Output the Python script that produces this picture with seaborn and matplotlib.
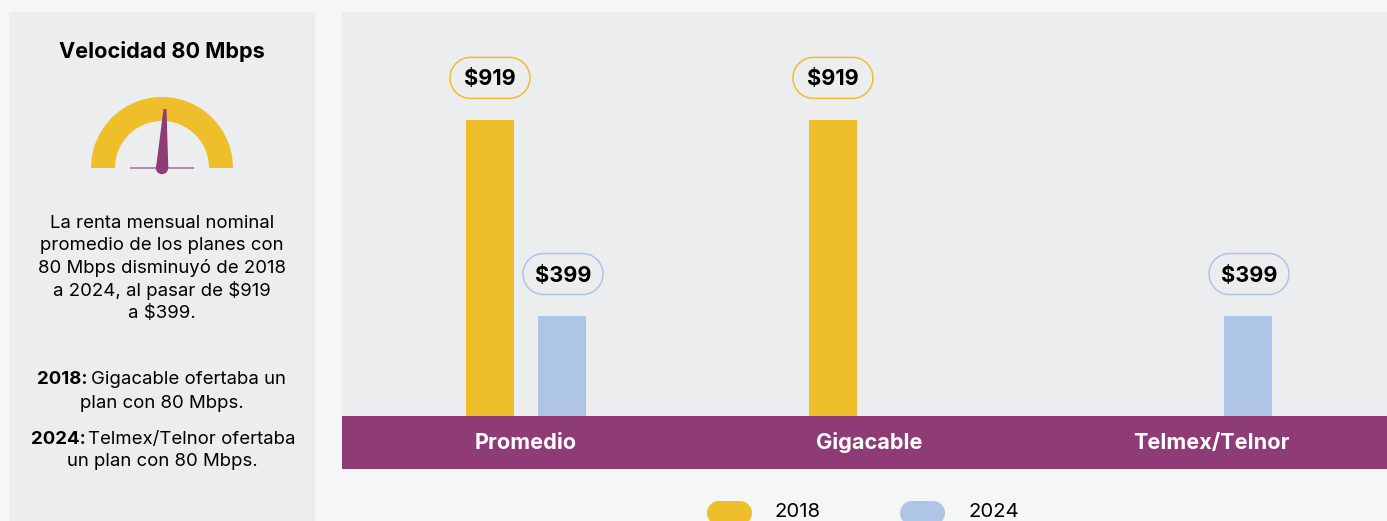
# plot.py
# Renta mensual nominal, planes con velocidad de 80 Mbps
import numpy as np
import pandas as pd
import matplotlib.pyplot as plt
import seaborn as sns
from matplotlib.patches import Rectangle, Wedge, Polygon, Circle

# Data
categories = ["Promedio", "Gigacable", "Telmex/Telnor"]
years = ["2018", "2024"]
values_2018 = [919, 919, np.nan]
values_2024 = [399, np.nan, 399]

title = "Velocidad 80 Mbps"
body_lines = ["La renta mensual nominal", "promedio de los planes con",
              "80 Mbps disminuyó de 2018", "a 2024, al pasar de $919", "a $399."]

# Colours
YELLOW = "#EFBE2B"
BLUE = "#AFC5E7"
PURPLE = "#8F3B76"
PANEL = "#ECEDEF"
PAGE = "#F5F7F6"
FONT = "Inter"

sns.set_theme(style="white")
plt.rcParams["font.family"] = [FONT, "DejaVu Sans"]
plt.rcParams["text.parse_math"] = False

W, H = 1387, 521
fig = plt.figure(figsize=(W / 100, H / 100), dpi=100, facecolor=PAGE)


def pill(x, y, w, h):
    # outline of a fully rounded box, x/y is the top left corner in pixels
    r = h / 2
    t = np.linspace(0, np.pi, 40)
    right = np.column_stack([x + w - r + r * np.sin(t), y + r - r * np.cos(t)])
    left = np.column_stack([x + r - r * np.sin(t), y + r + r * np.cos(t)])
    return np.vstack([right, left])


# Main axes, placed in pixels: x 342-1387, y 12-416
ax = fig.add_axes([342 / W, (H - 416) / H, 1045 / W, 404 / H], facecolor=PANEL)

df = pd.DataFrame({
    "cat": categories * 2,
    "year": [years[0]] * 3 + [years[1]] * 3,
    "value": values_2018 + values_2024,
}).dropna()

sns.barplot(data=df, x="cat", y="value", hue="year", order=categories, hue_order=years,
            palette=[YELLOW, BLUE], width=0.42, gap=1 / 3, saturation=1, legend=False,
            linewidth=0, ax=ax)

# Group spacing is 343 px, first group centre at 526 px
ax.set_xlim((342 - 526) / 343, (1387 - 526) / 343)
# Bars in the picture do not start at zero
ax.set_ylim(134, 1205)
ax.set_xlabel("")
ax.set_ylabel("")
ax.set_yticks([])
ax.set_axisbelow(False)
ax.tick_params(axis="x", length=0, pad=23.5)
for lab in ax.get_xticklabels():
    lab.set_color("white")
    lab.set_fontweight("bold")
    lab.set_fontsize(15.6)
    lab.set_verticalalignment("baseline")
sns.despine(ax=ax, left=True, bottom=True)

# Purple band under the bars, carries the category labels
ax.add_patch(Rectangle((0, -53 / 404), 1, 53 / 404, transform=ax.transAxes,
                       color=PURPLE, clip_on=False, lw=0, zorder=1))

# Overlay in pixel coordinates for the side panel, pills and legend
ol = fig.add_axes([0, 0, 1, 1], facecolor="none")
ol.set_xlim(0, W)
ol.set_ylim(H, 0)
ol.axis("off")

# Value pills above the bars
fig.canvas.draw()
for container, edge, shift in zip(ax.containers, [YELLOW, BLUE], [0, 1]):
    for bar in container:
        top = bar.get_height()
        cx = bar.get_x() + bar.get_width() / 2
        px, py = ol.transData.inverted().transform(ax.transData.transform((cx, top)))
        px = px + shift
        py = py - 42
        ol.add_patch(Polygon(pill(px - 40, py - 20.5, 80, 41), closed=True,
                             fc="none", ec=edge, lw=1.1))
        ol.text(px, py + 1.5, f"${top:.0f}", ha="center", va="center", fontsize=15.6,
                fontweight="bold", color="black")

# Side panel
ol.add_patch(Rectangle((9, 12), 306, H - 12, color=PANEL, lw=0, zorder=0))
ol.text(162, 51, title, ha="center", va="center", fontsize=15.6, fontweight="bold", color="black")

# Gauge
ol.add_patch(Wedge((162, 168), 71, 180, 360, width=24, color=YELLOW, lw=0))
ol.plot([130, 194], [168, 168], color=PURPLE, lw=1.2, alpha=0.65, solid_capstyle="butt")
ol.add_patch(Polygon([[156, 168], [163.5, 109], [166.5, 109], [168.3, 168]], closed=True,
                     color=PURPLE, lw=0))
ol.add_patch(Circle((162, 168), 6.2, color=PURPLE, lw=0))

# Text block
FS = 13.4
for i, line in enumerate(body_lines):
    ol.text(162, 223 + i * 22.5, line, ha="center", va="center", fontsize=FS, color="black")

ol.text(37, 380, "2018:", ha="left", va="center", fontsize=FS, fontweight="bold", color="black")
ol.text(91, 380, "Gigacable ofertaba un", ha="left", va="center", fontsize=FS, color="black")
ol.text(162, 403, "plan con 80 Mbps.", ha="center", va="center", fontsize=FS, color="black")
ol.text(31, 439, "2024:", ha="left", va="center", fontsize=FS, fontweight="bold", color="black")
ol.text(88, 439, "Telmex/Telnor ofertaba", ha="left", va="center", fontsize=FS, color="black")
ol.text(162, 462, "un plan con 80 Mbps.", ha="center", va="center", fontsize=FS, color="black")

# Legend, cut by the bottom edge of the picture
for year, color, x0, xt in zip(years, [YELLOW, BLUE], [707, 900], [775, 968]):
    ol.add_patch(Polygon(pill(x0, 501, 45, 24), closed=True, fc=color, ec="none"))
    ol.text(xt, 512, year, ha="left", va="center", fontsize=14.6, color="black")

fig.savefig("out.png", dpi=100, facecolor=PAGE)
